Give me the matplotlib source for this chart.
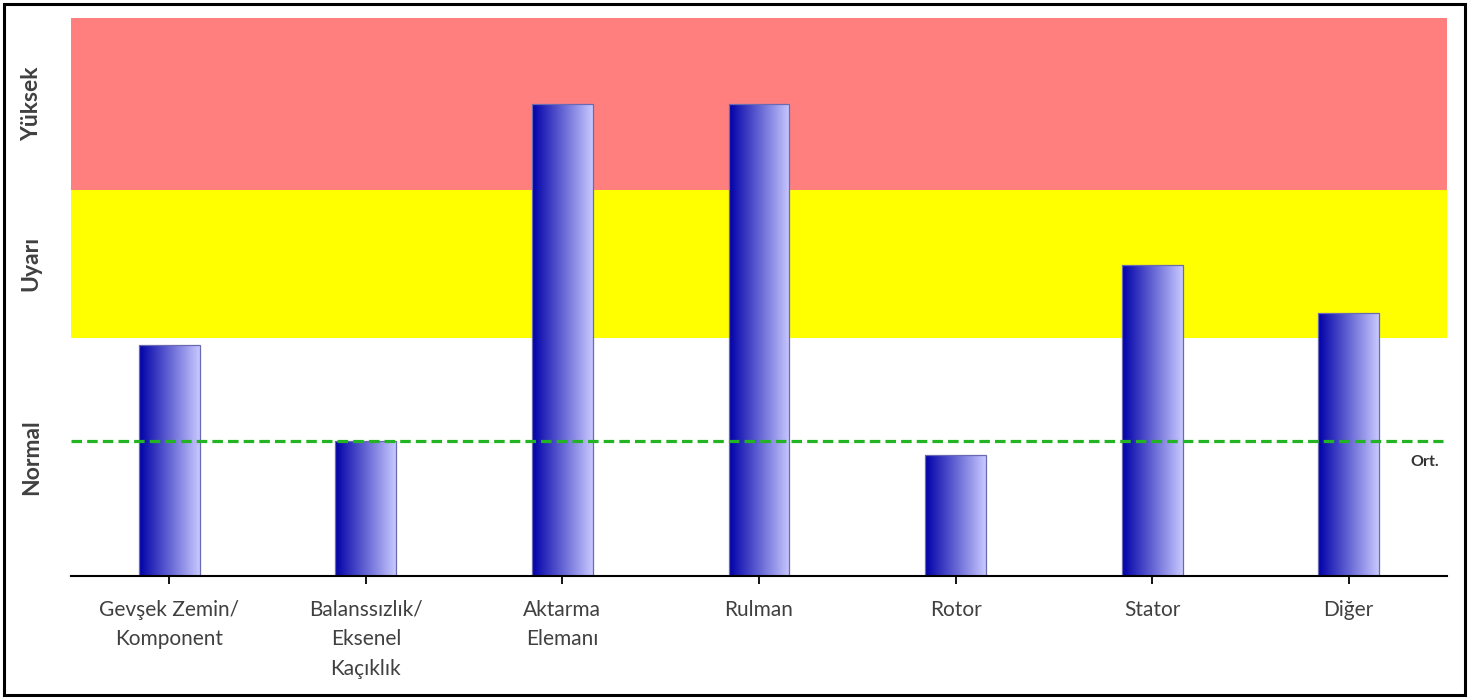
import matplotlib
matplotlib.use("Agg")
import matplotlib.pyplot as plt
import numpy as np
from matplotlib.patches import Rectangle
from matplotlib.colors import LinearSegmentedColormap

# ---- data ----
categories = ["Gevşek Zemin/\nKomponent", "Balanssızlık/\nEksenel\nKaçıklık",
              "Aktarma\nElemanı", "Rulman", "Rotor", "Stator", "Diğer"]
values = [41.4, 24.2, 84.6, 84.6, 21.7, 55.7, 47.1]
band_edges = [0, 42.7, 69.2, 100]
band_names = ["Normal", "Uyarı", "Yüksek"]
band_colors = ["#FFFFFF", "#FFFF00", "#FF7F7F"]
average = 24.2
avg_label = "Ort."

plt.rcParams['font.family'] = ['Lato', 'DejaVu Sans']

fig = plt.figure(figsize=(14.77, 6.99), dpi=100)
ax = fig.add_axes([71/1477, (699-576)/699, (1447-71)/1477, (576-18)/699])

# bands
for lo, hi, c in zip(band_edges[:-1], band_edges[1:], band_colors):
    ax.axhspan(lo, hi, color=c, zorder=0, lw=0)

x = np.arange(len(categories))
bars = ax.bar(x, values, width=0.31, color='none', edgecolor='#6A6AB0',
              linewidth=0.9, zorder=3)

cmap = LinearSegmentedColormap.from_list("bg", ["#0000A8", "#C8C8FF"])
grad = np.linspace(0, 1, 256).reshape(1, -1)
for b in bars:
    x0, y0 = b.get_x(), b.get_y()
    w, h = b.get_width(), b.get_height()
    im = ax.imshow(grad, cmap=cmap, extent=[x0, x0 + w, y0, y0 + h],
                   aspect='auto', zorder=2, interpolation='bilinear')
    im.set_clip_path(b)

ax.axhline(average, xmin=0, xmax=0.997, color='#22B422', lw=2.3,
           linestyle=(0, (3.3, 1.6)), zorder=4)
ax.text(6.46, average - 2.6, avg_label, ha='right', va='top',
        fontsize=11.5, fontweight='bold', color='#333333', zorder=5)

ax.set_xlim(-0.5, len(categories) - 0.5)
ax.set_ylim(0, 100)

ax.set_xticks(x)
ax.set_xticklabels(categories, fontsize=15, color='#404040', linespacing=1.6)
ax.tick_params(axis='x', length=6, width=1.3, color='black', pad=11)

centers = [(lo + hi) / 2 for lo, hi in zip(band_edges[:-1], band_edges[1:])]
ax.set_yticks(centers)
ax.set_yticklabels(band_names, rotation=90, va='center', fontsize=16.5,
                   fontweight='bold', color='#404040')
ax.tick_params(axis='y', length=0, pad=21)

for s in ['top', 'right', 'left']:
    ax.spines[s].set_visible(False)
ax.spines['bottom'].set_linewidth(1.5)
ax.spines['bottom'].set_zorder(6)

# figure border
fig.patches.append(Rectangle((4/1477, 4/699), (1465-4)/1477, (697-6)/699,
                             transform=fig.transFigure, fill=False,
                             edgecolor='black', linewidth=2.2))

fig.savefig("out.png", dpi=100)
